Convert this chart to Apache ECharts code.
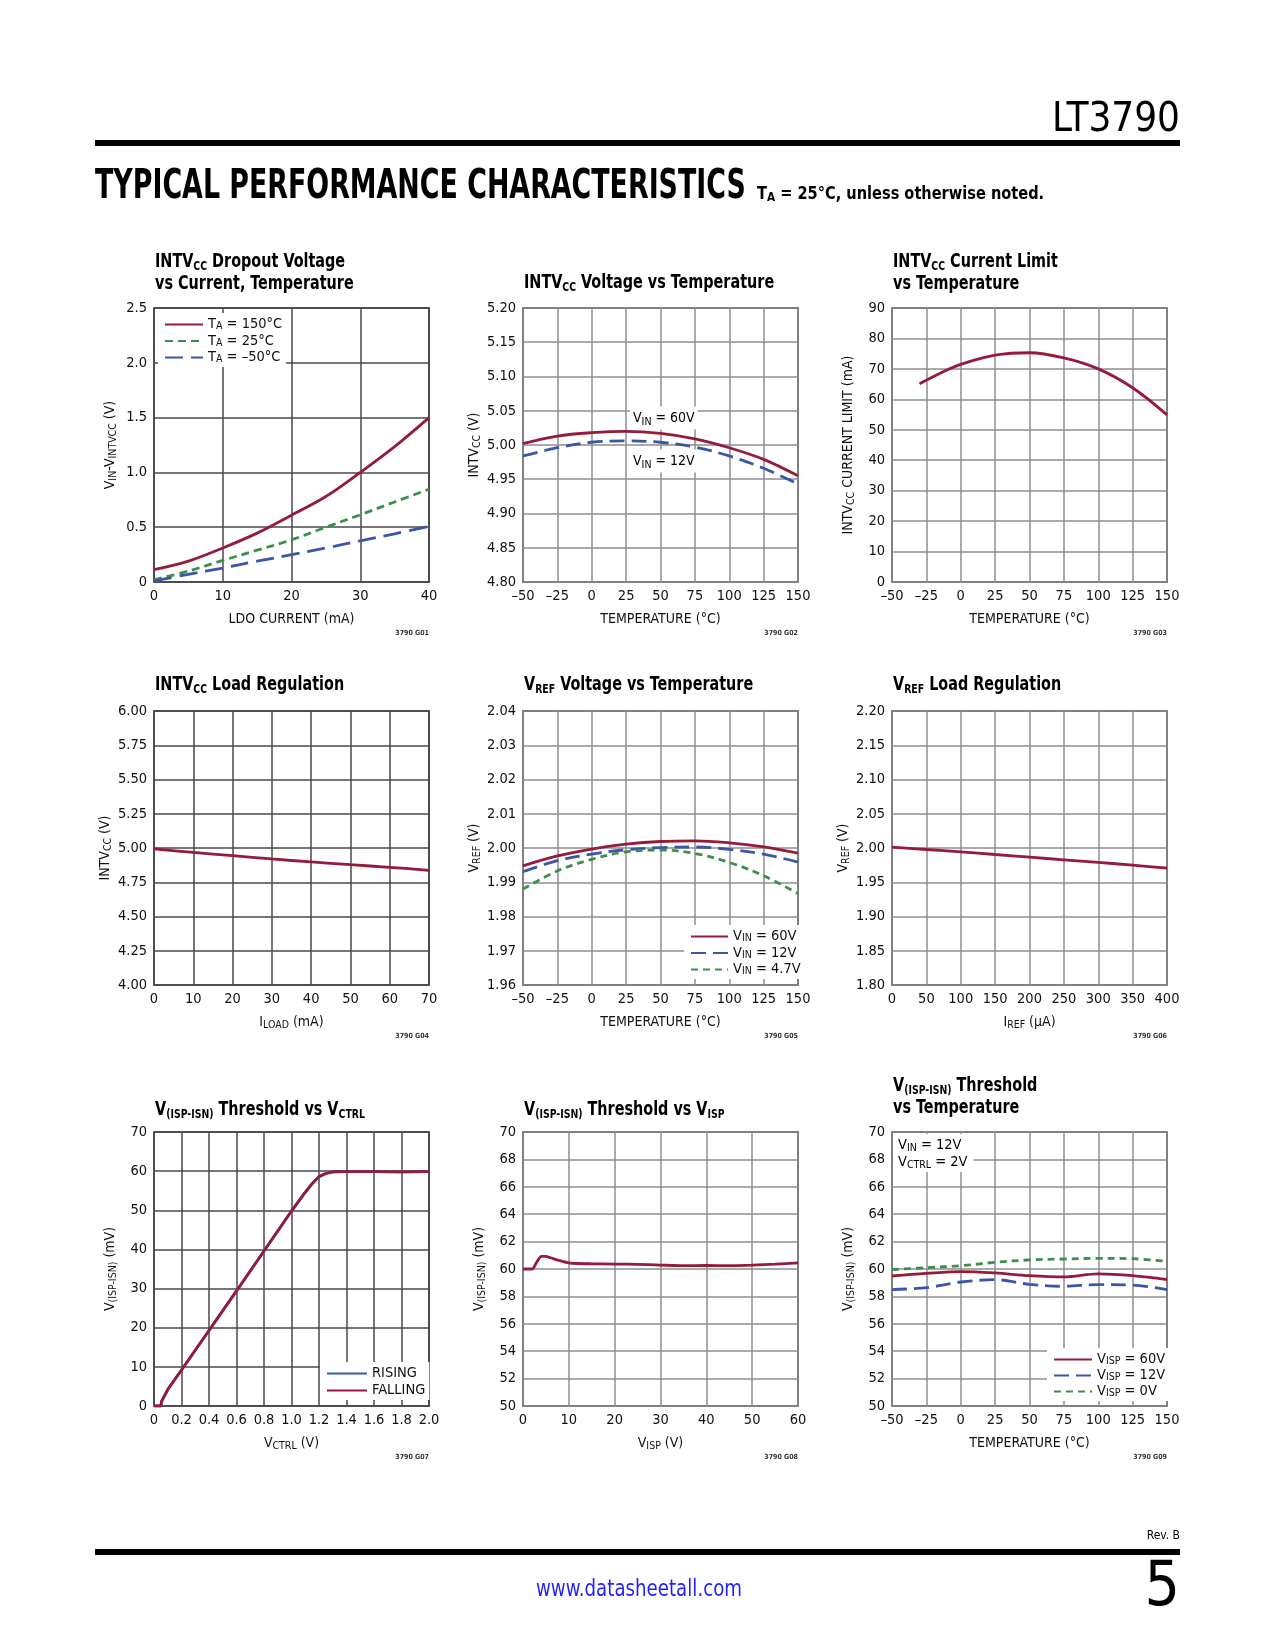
<!DOCTYPE html>
<html><head><meta charset="utf-8">
<script src="https://cdn.jsdelivr.net/npm/echarts@6/dist/echarts.min.js"></script>
<style>html,body{margin:0;padding:0;background:#fff}#c{width:1275px;height:1650px}</style>
</head><body><div id="c"></div>
<script>
// ---------- DATA ----------
const G01_I = [0, 5, 10, 15, 20, 25, 30, 35, 40];
const G01_T150 = [0.112, 0.19, 0.31, 0.446, 0.61, 0.78, 1.0, 1.235, 1.5];
const G01_T25 = [0.02, 0.10, 0.197, 0.29, 0.385, 0.50, 0.613, 0.73, 0.846];
const G01_TM50 = [0.01, 0.07, 0.127, 0.19, 0.249, 0.31, 0.376, 0.44, 0.507];

const TEMP = [-50, -25, 0, 25, 50, 75, 100, 125, 150];
const G02_V60 = [5.002, 5.013, 5.018, 5.020, 5.017, 5.009, 4.996, 4.979, 4.955];
const G02_V12 = [4.984, 4.996, 5.004, 5.006, 5.004, 4.997, 4.984, 4.966, 4.943];

const G03_T = [-30, -15, 0, 25, 50, 75, 100, 125, 150];
const G03_I = [65.1, 68.6, 71.5, 74.5, 75.3, 73.6, 70.0, 63.8, 54.9];

const G04_I = [0, 10, 20, 30, 40, 50, 60, 70];
const G04_V = [4.993, 4.968, 4.944, 4.920, 4.898, 4.878, 4.859, 4.837];

const G05_V60 = [1.9948, 1.9977, 1.9997, 2.0011, 2.0019, 2.0021, 2.0015, 2.0003, 1.9985];
const G05_V12 = [1.9931, 1.9963, 1.9982, 1.9995, 2.0001, 2.0003, 1.9996, 1.9982, 1.9959];
const G05_V47 = [1.9880, 1.9933, 1.9967, 1.9989, 1.9994, 1.9984, 1.9958, 1.9919, 1.9867];

const G06_I = [0, 50, 100, 150, 200, 250, 300, 350, 400];
const G06_V = [2.0012, 1.9978, 1.9944, 1.9905, 1.9866, 1.9828, 1.9789, 1.9750, 1.9706];

const G07_VCTRL = [0, 0.05, 0.055, 0.1, 0.2, 0.4, 0.6, 0.8, 1.0, 1.1, 1.15, 1.2, 1.25, 1.3, 1.4, 1.6, 1.8, 2.0];
const G07_RISING = [0, 0, 1.2, 4.2, 9.2, 19.3, 29.4, 39.6, 49.8, 54.6, 56.8, 58.6, 59.4, 59.8, 59.9, 59.9, 59.8, 59.9];
const G07_FALLING = [0, 0, 1.2, 4.2, 9.2, 19.3, 29.4, 39.6, 49.8, 54.6, 56.8, 58.6, 59.4, 59.8, 59.9, 59.9, 59.8, 59.9];

const G08_VISP = [0, 2, 3, 4, 5, 6, 8, 10, 12, 15, 20, 25, 30, 35, 40, 45, 50, 55, 60];
const G08_V = [60.0, 60.0, 60.5, 60.92, 60.92, 60.82, 60.62, 60.45, 60.4, 60.38, 60.36, 60.34, 60.29, 60.24, 60.26, 60.24, 60.28, 60.35, 60.45];

const G09_V60 = [59.49, 59.68, 59.81, 59.71, 59.51, 59.42, 59.64, 59.51, 59.22];
const G09_V12 = [58.50, 58.64, 59.05, 59.22, 58.88, 58.74, 58.86, 58.83, 58.50];
const G09_V0 = [59.95, 60.10, 60.24, 60.49, 60.66, 60.73, 60.78, 60.75, 60.56];

// ---------- STYLE ----------
const F = "'Liberation Sans Narrow','Arial Narrow','DejaVu Sans Condensed',sans-serif";
const RED = '#951B3B', BLUE = '#3B55A8', GREEN = '#3E8E4B', INK = '#111';
function rt(s, n, sb) {
  return s.split('\n').map(line => line.split(/(\[[^\]]*\])/).filter(p => p.length)
    .map(p => p[0] === '[' ? '{' + sb + '|' + p.slice(1, -1) + '}' : '{' + n + '|' + p + '}').join('')).join('\n');
}
const RICH = {
  n: {fontFamily: F, fontSize: 14, lineHeight: 18, color: INK},
  s: {fontFamily: F, fontSize: 10.5, lineHeight: 8, verticalAlign: 'bottom', color: INK},
  t: {fontFamily: F, fontSize: 20, fontWeight: 'bold', lineHeight: 22, color: INK},
  ts: {fontFamily: F, fontSize: 13, fontWeight: 'bold', lineHeight: 11, verticalAlign: 'bottom', color: INK},
  ln: {fontFamily: F, fontSize: 14.5, lineHeight: 15, color: INK},
  ls: {fontFamily: F, fontSize: 10.5, lineHeight: 6, verticalAlign: 'bottom', color: INK},
  hb: {fontFamily: F, fontSize: 18, fontWeight: 'bold', lineHeight: 20, color: INK},
  hs: {fontFamily: F, fontSize: 13, fontWeight: 'bold', lineHeight: 8, verticalAlign: 'bottom', color: INK}
};
const dash = v => String(v).replace('-', '\u2013');
const fx = d => v => v.toFixed(d);
const fx0 = d => v => (Math.abs(v) < 1e-9 ? '0' : v.toFixed(d));

const cols = [154, 523, 892], rows = [308, 711, 1132], W = 275, H = 274;
const LABELS = {};

const charts = [
  {col: 0, row: 0, title: 'INTV[CC] Dropout Voltage\nvs Current, Temperature', two: true,
   x: [0, 40, 10], y: [0, 2.5, 0.5], xf: dash, yf: fx0(1), dark: true, code: '3790 G01',
   xName: 'LDO CURRENT (mA)', yName: 'V[IN]-V[INTVCC] (V)',
   series: [
     {name: 'TA = 150°C', label: 'T[A] = 150°C', x: G01_I, y: G01_T150, color: RED, type: 'solid'},
     {name: 'TA = 25°C', label: 'T[A] = 25°C', x: G01_I, y: G01_T25, color: GREEN, type: [8, 5]},
     {name: 'TA = -50°C', label: 'T[A] = \u201350°C', x: G01_I, y: G01_TM50, color: BLUE, type: [18, 8]}],
   legend: {left: 158, top: 313, itemWidth: 38, itemGap: 1.5}},
  {col: 1, row: 0, title: 'INTV[CC] Voltage vs Temperature', two: false,
   x: [-50, 150, 25], y: [4.8, 5.2, 0.05], xf: dash, yf: fx(2), dark: false, code: '3790 G02',
   xName: 'TEMPERATURE (°C)', yName: 'INTV[CC] (V)',
   series: [
     {name: 'G02 VIN 60V', x: TEMP, y: G02_V60, color: RED, type: 'solid'},
     {name: 'G02 VIN 12V', x: TEMP, y: G02_V12, color: BLUE, type: [15, 7]}]},
  {col: 2, row: 0, title: 'INTV[CC] Current Limit\nvs Temperature', two: true,
   x: [-50, 150, 25], y: [0, 90, 10], xf: dash, yf: v => String(v), dark: false, code: '3790 G03',
   xName: 'TEMPERATURE (°C)', yName: 'INTV[CC] CURRENT LIMIT (mA)',
   series: [{name: 'G03 ILIM', x: G03_T, y: G03_I, color: RED, type: 'solid'}]},
  {col: 0, row: 1, title: 'INTV[CC] Load Regulation', two: false,
   x: [0, 70, 10], y: [4, 6, 0.25], xf: dash, yf: fx(2), dark: true, code: '3790 G04',
   xName: 'I[LOAD] (mA)', yName: 'INTV[CC] (V)',
   series: [{name: 'G04 INTVCC', x: G04_I, y: G04_V, color: RED, type: 'solid'}]},
  {col: 1, row: 1, title: 'V[REF] Voltage vs Temperature', two: false,
   x: [-50, 150, 25], y: [1.96, 2.04, 0.01], xf: dash, yf: fx(2), dark: false, code: '3790 G05',
   xName: 'TEMPERATURE (°C)', yName: 'V[REF] (V)',
   series: [
     {name: 'VIN = 60V', label: 'V[IN] = 60V', x: TEMP, y: G05_V60, color: RED, type: 'solid'},
     {name: 'VIN = 12V', label: 'V[IN] = 12V', x: TEMP, y: G05_V12, color: BLUE, type: [15, 7]},
     {name: 'VIN = 4.7V', label: 'V[IN] = 4.7V', x: TEMP, y: G05_V47, color: GREEN, type: [7, 5]}],
   legend: {left: 684, top: 925, itemWidth: 37, itemGap: 1.5}},
  {col: 2, row: 1, title: 'V[REF] Load Regulation', two: false,
   x: [0, 400, 50], y: [1.8, 2.2, 0.05], xf: dash, yf: fx(2), dark: false, code: '3790 G06',
   xName: 'I[REF] (\u00b5A)', yName: 'V[REF] (V)',
   series: [{name: 'G06 VREF', x: G06_I, y: G06_V, color: RED, type: 'solid'}]},
  {col: 0, row: 2, title: 'V[(ISP-ISN)] Threshold vs V[CTRL]', two: false,
   x: [0, 2, 0.2], y: [0, 70, 10], xf: fx0(1), yf: v => String(v), dark: true, code: '3790 G07',
   xName: 'V[CTRL] (V)', yName: 'V[(ISP-ISN)] (mV)',
   series: [
     {name: 'RISING', label: 'RISING', x: G07_VCTRL, y: G07_RISING, color: BLUE, type: 'solid', smooth: false},
     {name: 'FALLING', label: 'FALLING', x: G07_VCTRL, y: G07_FALLING, color: RED, type: 'solid', smooth: false}],
   legend: {left: 320, top: 1362, itemWidth: 40, itemGap: 2}},
  {col: 1, row: 2, title: 'V[(ISP-ISN)] Threshold vs V[ISP]', two: false,
   x: [0, 60, 10], y: [50, 70, 2], xf: dash, yf: v => String(v), dark: false, code: '3790 G08',
   xName: 'V[ISP] (V)', yName: 'V[(ISP-ISN)] (mV)',
   series: [{name: 'G08 VTH', x: G08_VISP, y: G08_V, color: RED, type: 'solid', smooth: 0.25}]},
  {col: 2, row: 2, title: 'V[(ISP-ISN)] Threshold\nvs Temperature', two: true,
   x: [-50, 150, 25], y: [50, 70, 2], xf: dash, yf: v => String(v), dark: false, code: '3790 G09',
   xName: 'TEMPERATURE (°C)', yName: 'V[(ISP-ISN)] (mV)',
   series: [
     {name: 'VISP = 60V', label: 'V[ISP] = 60V', x: TEMP, y: G09_V60, color: RED, type: 'solid'},
     {name: 'VISP = 12V', label: 'V[ISP] = 12V', x: TEMP, y: G09_V12, color: BLUE, type: [15, 7]},
     {name: 'VISP = 0V', label: 'V[ISP] = 0V', x: TEMP, y: G09_V0, color: GREEN, type: [7, 5]}],
   legend: {left: 1047, top: 1348, itemWidth: 38, itemGap: 1}}
];

const grids = [], xAxes = [], yAxes = [], series = [], legends = [], graphics = [];
const titleTop = {0: [272, 251], 1: [674, 674], 2: [1099, 1075]};

charts.forEach((c, i) => {
  const L = cols[c.col], T = rows[c.row];
  const gcol = c.dark ? '#4a4a4a' : '#8e8e8e';
  grids.push({left: L, top: T, width: W, height: H, show: true, borderColor: '#222', borderWidth: 1.5,
    backgroundColor: 'rgba(0,0,0,0)', containLabel: false});
  const common = {
    gridIndex: i, type: 'value', axisLine: {show: false}, axisTick: {show: false},
    splitLine: {show: true, lineStyle: {color: gcol, width: 1.5}},
    nameLocation: 'middle', nameTextStyle: {fontFamily: F, fontSize: 14, color: INK, rich: RICH}
  };
  xAxes.push(Object.assign({}, common, {
    min: c.x[0], max: c.x[1], interval: c.x[2], name: rt(c.xName, 'n', 's'), nameGap: 28,
    axisLabel: {fontFamily: F, fontSize: 14.5, color: INK, margin: 7, formatter: c.xf, showMinLabel: true, showMaxLabel: true, hideOverlap: false}
  }));
  yAxes.push(Object.assign({}, common, {
    min: c.y[0], max: c.y[1], interval: c.y[2], name: rt(c.yName, 'n', 's'), nameGap: 35,
    axisLabel: {fontFamily: F, fontSize: 14.5, color: INK, margin: 7, formatter: c.yf, showMinLabel: true, showMaxLabel: true, hideOverlap: false}
  }));
  graphics.push({type: 'text', x: L + 1, y: titleTop[c.row][c.two ? 1 : 0], scaleX: 0.8, z: 10,
    style: {text: rt(c.title, 't', 'ts'), rich: RICH, verticalAlign: 'top', align: 'left'}});
  c.series.forEach(s => {
    if (s.label) LABELS[s.name] = s.label;
    series.push({
      type: 'line', name: s.name, xAxisIndex: i, yAxisIndex: i,
      data: s.x.map((v, k) => [v, s.y[k]]),
      smooth: s.smooth === undefined ? 0.35 : s.smooth,
      symbol: 'none', showSymbol: false, silent: true, animation: false,
      lineStyle: {color: s.color, width: 2.8, type: s.type},
      itemStyle: {color: s.color}
    });
  });
  if (c.legend) {
    legends.push({
      orient: 'vertical', left: c.legend.left, top: c.legend.top,
      itemWidth: c.legend.itemWidth, itemHeight: 15, itemGap: c.legend.itemGap,
      padding: [4, 4, 2, 6], backgroundColor: '#fff', selectedMode: false,
      itemStyle: {color: 'rgba(0,0,0,0)', borderColor: 'rgba(0,0,0,0)', borderWidth: 0},
      data: c.series.map(s => s.name),
      formatter: name => rt(LABELS[name] || name, 'ln', 'ls'),
      textStyle: {fontFamily: F, fontSize: 14.5, color: INK, rich: RICH}
    });
  }
  graphics.push({type: 'text', x: L + W, y: T + H + 51, z: 10,
    style: {text: c.code, align: 'right', verticalAlign: 'middle', font: 'bold 7px ' + F, fill: '#333'}});
});

// annotations
graphics.push(
  {type: 'text', x: 630, y: 418, z: 10, style: {text: rt('V[IN] = 60V', 'n', 's'), rich: RICH, verticalAlign: 'middle', backgroundColor: '#fff', padding: [3, 3, 2, 3]}},
  {type: 'text', x: 630, y: 461, z: 10, style: {text: rt('V[IN] = 12V', 'n', 's'), rich: RICH, verticalAlign: 'middle', backgroundColor: '#fff', padding: [3, 3, 2, 3]}},
  {type: 'rect', z: 1, shape: {x: 893.5, y: 1134, width: 80, height: 38}, style: {fill: '#fff'}},
  {type: 'text', x: 898, y: 1137, z: 10, style: {text: rt('V[IN] = 12V\nV[CTRL] = 2V', 'ln', 'ls'), rich: Object.assign({}, RICH, {ln: Object.assign({}, RICH.ln, {lineHeight: 17})}), verticalAlign: 'top'}}
);
// page furniture
graphics.push(
  {type: 'text', x: 1180, y: 121, style: {text: 'LT3790', align: 'right', verticalAlign: 'middle', font: '40px ' + F, fill: '#000'}},
  {type: 'rect', shape: {x: 95, y: 140, width: 1085, height: 6}, style: {fill: '#000'}},
  {type: 'text', x: 95, y: 188, scaleX: 0.746, style: {text: 'TYPICAL PERFORMANCE CHARACTERISTICS', verticalAlign: 'middle', font: 'bold 40px ' + F, fill: '#000'}},
  {type: 'text', x: 757, y: 194, scaleX: 0.9, style: {text: rt('T[A] = 25°C, unless otherwise noted.', 'hb', 'hs'), rich: RICH, verticalAlign: 'middle'}},
  {type: 'text', x: 1180, y: 1536, style: {text: 'Rev. B', align: 'right', verticalAlign: 'middle', font: '12px ' + F, fill: '#000'}},
  {type: 'rect', shape: {x: 95, y: 1549, width: 1085, height: 6}, style: {fill: '#000'}},
  {type: 'text', x: 639, y: 1590, scaleX: 0.88, style: {text: 'www.datasheetall.com', align: 'center', verticalAlign: 'middle', font: '23px ' + F, fill: '#1f1fff'}},
  {type: 'text', x: 1180, y: 1589, style: {text: '5', align: 'right', verticalAlign: 'middle', font: '62px ' + F, fill: '#000'}}
);

const chart = echarts.init(document.getElementById('c'), null, {renderer: 'canvas'});
chart.setOption({
  backgroundColor: '#fff', animation: false,
  grid: grids, xAxis: xAxes, yAxis: yAxes, legend: legends,
  series: series, graphic: graphics
});
</script></body></html>
